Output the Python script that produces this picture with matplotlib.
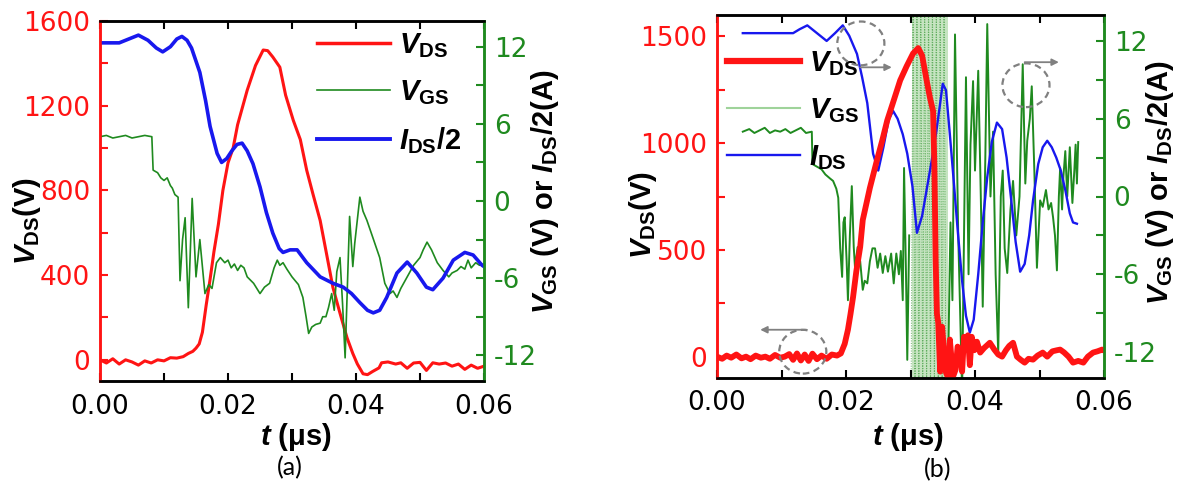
import numpy as np
import matplotlib
matplotlib.use('Agg')
import matplotlib.pyplot as plt
from matplotlib.patches import Ellipse
from matplotlib.lines import Line2D
from matplotlib.ticker import MultipleLocator, FormatStrFormatter

# ---------------- panel (a) data ----------------
t_vds_a = [0.000, 0.001, 0.002, 0.003, 0.004, 0.005, 0.006, 0.007, 0.008, 0.009,
           0.010, 0.011, 0.012, 0.013, 0.0138, 0.0145, 0.0150, 0.0155, 0.0160, 0.0166,
           0.0172, 0.0178, 0.0185, 0.0192, 0.0200, 0.0208, 0.0215, 0.0230, 0.0243, 0.0255,
           0.0262, 0.0270, 0.0281, 0.0290, 0.0302, 0.0313, 0.0323, 0.0333, 0.0344, 0.0354,
           0.0364, 0.0375, 0.0386, 0.0395, 0.0402, 0.0411, 0.0418, 0.0426, 0.0436, 0.0440,
           0.0450, 0.0462, 0.0470, 0.0480, 0.0490, 0.0500, 0.0510, 0.0520, 0.0530, 0.0540,
           0.0550, 0.0560, 0.0570, 0.0580, 0.0590, 0.0600]
vds_a = [0, -15, 5, -20, 0, -10, -25, -5, -15, 0,
         -5, 10, 8, 15, 30, 40, 55, 75, 130, 260,
         380, 510, 640, 800, 930, 1000, 1110, 1273, 1390, 1463,
         1460, 1430, 1382, 1250, 1131, 1040, 895, 780, 658, 500,
         341, 220, 104, 30, -19, -66, -70, -55, -38, -14,
         -10, -20, -14, -40, -15, -12, -50, -14, -20, -15,
         -30, -20, -45, -25, -40, -30]

t_vgs_a = [0.000, 0.001, 0.002, 0.003, 0.004, 0.005, 0.006, 0.007, 0.0081, 0.0083,
           0.0090, 0.0095, 0.0100, 0.0105, 0.0110, 0.0113, 0.0117, 0.0122, 0.0125, 0.0129,
           0.0133, 0.0138, 0.0144, 0.0150, 0.0156, 0.0164, 0.0170, 0.0175, 0.0182, 0.0188,
           0.0195, 0.0200, 0.0205, 0.0210, 0.0215, 0.0220, 0.0225, 0.0230, 0.0240, 0.0250,
           0.0257, 0.0265, 0.0272, 0.0277, 0.0281, 0.0286, 0.0292, 0.0300, 0.0310, 0.0317,
           0.0322, 0.0326, 0.0331, 0.0337, 0.0344, 0.0348, 0.0353, 0.0357, 0.0362, 0.0366,
           0.0370, 0.0375, 0.0379, 0.0383, 0.0390, 0.0395, 0.0398, 0.0406, 0.0411, 0.0417,
           0.0426, 0.0437, 0.0445, 0.0453, 0.0458, 0.0464, 0.0470, 0.0480, 0.0490, 0.0500,
           0.0505, 0.0511, 0.0518, 0.0527, 0.0536, 0.0545, 0.0550, 0.0558, 0.0564, 0.0570,
           0.0575, 0.0580, 0.0587, 0.0593, 0.0600]
vgs_a = [5.0, 5.1, 4.9, 5.0, 5.1, 4.9, 5.0, 5.1, 5.0, 2.4,
         2.2, 1.8, 1.6, 1.8, 1.2, 1.0, 0.5, 0.3, -6.2, -3.0,
         -1.3, -8.3, 0.2, -5.9, -3.0, -7.2, -6.5, -6.8, -4.8, -4.4,
         -4.8, -4.6, -5.2, -4.9, -5.4, -5.0, -5.2, -5.9, -6.4, -7.2,
         -6.7, -6.4, -5.2, -4.6, -5.0, -4.8, -5.3, -5.9, -6.5, -7.5,
         -9.0, -10.3, -9.8, -9.6, -9.5, -9.0, -9.0, -8.3, -7.2, -8.5,
         -5.5, -4.4, -8.0, -12.2, -1.2, -5.1, -3.3, 0.3, -0.8, -1.5,
         -2.8, -4.4, -6.4, -7.2, -7.0, -7.5, -6.8, -5.9, -5.0, -4.4,
         -3.8, -3.2, -3.8, -4.8, -5.4, -5.9, -5.6, -5.4, -5.1, -5.3,
         -4.6, -5.2, -4.8, -5.0, -4.9]

t_ids_a = [0.000, 0.003, 0.0045, 0.006, 0.0075, 0.0088, 0.0098, 0.0110, 0.0120, 0.0128,
           0.0136, 0.0143, 0.0156, 0.0165, 0.0172, 0.0183, 0.0190, 0.0198, 0.0206, 0.0214,
           0.0222, 0.0230, 0.0239, 0.0250, 0.0260, 0.0270, 0.0280, 0.0286, 0.0297, 0.0308,
           0.0323, 0.0344, 0.0364, 0.0380, 0.0393, 0.0406, 0.0418, 0.0427, 0.0437, 0.0448,
           0.0464, 0.0480, 0.0495, 0.0510, 0.0520, 0.0536, 0.0552, 0.0570, 0.0583, 0.0597,
           0.0600]
ids_a = [12.3, 12.3, 12.6, 12.9, 12.5, 11.9, 11.6, 12.0, 12.6, 12.8,
         12.5, 11.9, 10.0, 7.8, 5.8, 3.7, 3.0, 3.3, 3.9, 4.4,
         4.5, 3.9, 2.9, 1.1, -0.9, -2.5, -3.7, -4.0, -3.8, -3.8,
         -4.8, -5.9, -6.4, -6.7, -7.2, -7.9, -8.5, -8.7, -8.5, -7.5,
         -5.6, -4.75, -5.6, -6.7, -6.9, -6.0, -4.6, -4.0, -4.2, -5.0,
         -5.1]

# ---------------- panel (b) data ----------------
t_vds_b = [0.0000, 0.0008, 0.0015, 0.0022, 0.0030, 0.0038, 0.0045, 0.0052, 0.0060, 0.0068,
           0.0075, 0.0082, 0.0090, 0.0098, 0.0105, 0.0112, 0.0118, 0.0124, 0.0130, 0.0136,
           0.0142, 0.0148, 0.0155, 0.0162, 0.0170, 0.0178, 0.0186, 0.0192, 0.0198, 0.0203,
           0.0207, 0.0211, 0.0216, 0.0222, 0.0226, 0.0237, 0.0248, 0.0256, 0.0264, 0.0274,
           0.0284, 0.0294, 0.0304, 0.0312, 0.0318, 0.0325, 0.0330, 0.0335, 0.0337, 0.0339,
           0.0341, 0.0343, 0.0346, 0.0349, 0.0352, 0.0355, 0.0358, 0.0361, 0.0366, 0.0370,
           0.0373, 0.0377, 0.0380, 0.0383, 0.0386, 0.0389, 0.0392, 0.0395, 0.0399, 0.0403,
           0.0408, 0.0414, 0.0423, 0.0430, 0.0436, 0.0442, 0.0448, 0.0453, 0.0459, 0.0465,
           0.0471, 0.0477, 0.0483, 0.0490, 0.0497, 0.0505, 0.0512, 0.0520, 0.0527, 0.0532,
           0.0538, 0.0545, 0.0552, 0.0560, 0.0568, 0.0575, 0.0583, 0.0590, 0.0597, 0.0600]
vds_b = [0, -10, 5, -5, 10, -8, 0, -12, 5, -5,
         0, -10, 8, -5, 0, 12, -15, 15, -18, 10,
         -20, 14, -12, 5, -10, 10, 5, 15, 60, 126,
         200, 280, 400, 514, 640, 790, 920, 1010, 1107, 1200,
         1294, 1360, 1420, 1445, 1410, 1294, 1215, 1150, 900, 450,
         200, 160, -70, 140, 20, -75, -95, 80, -93, -60,
         47, 30, -70, 93, 40, 100, -40, 93, 30, 70,
         19, 40, 65, 33, 10, 0, 30, 50, 65, 0,
         -15, -28, -10, -14, 5, 19, 0, 25, 30, 33,
         20, 0, -28, -20, -28, 0, 19, 25, 33, 30]

t_vgs_b = [0.0040, 0.0050, 0.0058, 0.0066, 0.0074, 0.0082, 0.0090, 0.0098, 0.0106, 0.0114,
           0.0122, 0.0130, 0.0138, 0.0147, 0.0148, 0.0155, 0.0162, 0.0168, 0.0175, 0.0180,
           0.0185, 0.0188, 0.0191, 0.0194, 0.0196, 0.0198, 0.0201, 0.0203, 0.0206, 0.0209,
           0.0212, 0.0214, 0.0218, 0.0222, 0.0226, 0.0229, 0.0233, 0.0237, 0.0241, 0.0245,
           0.0249, 0.0253, 0.0257, 0.0261, 0.0265, 0.0270, 0.0274, 0.0278, 0.0282, 0.0285,
           0.0288, 0.0290, 0.0293, 0.0295, 0.0298, 0.0301, 0.0304, 0.0307, 0.0310, 0.0313,
           0.0316, 0.0319, 0.0322, 0.0325, 0.0328, 0.0331, 0.0334, 0.0337, 0.0340, 0.0343,
           0.0346, 0.0349, 0.0352, 0.0355, 0.0358, 0.0362, 0.0365, 0.0369, 0.0374, 0.0380,
           0.0386, 0.0390, 0.0393, 0.0397, 0.0400, 0.0405, 0.0409, 0.0412, 0.0416, 0.0419,
           0.0424, 0.0428, 0.0432, 0.0436, 0.0440, 0.0443, 0.0446, 0.0450, 0.0455, 0.0459,
           0.0464, 0.0469, 0.0474, 0.0478, 0.0481, 0.0485, 0.0488, 0.0492, 0.0496, 0.0501,
           0.0505, 0.0510, 0.0514, 0.0518, 0.0521, 0.0524, 0.0527, 0.0530, 0.0532, 0.0535,
           0.0537, 0.0540, 0.0543, 0.0547, 0.0551, 0.0554, 0.0556, 0.0558, 0.0560]
vgs_b = [5.0, 5.2, 4.9, 5.1, 5.3, 4.9, 5.1, 5.0, 5.2, 4.9,
         5.1, 5.3, 4.9, 5.0, 2.5, 2.3, 2.1, 1.7, 1.4, 1.2,
         0.6, -0.1, -4.0, -6.2, -2.0, -1.6, -5.0, -8.0, -3.0, 0.8,
         -3.9, -5.5, -3.9, -5.0, -7.2, -6.5, -6.7, -5.0, -4.0, -4.0,
         -5.5, -4.4, -5.9, -4.6, -5.8, -4.4, -6.7, -4.4, -6.0, -4.2,
         -8.0, 2.2, -6.0, -12.6, -3.0, -14.5, 16, -16, 16, -16,
         16, -16, 16, -16, 16, -16, 16, -16, 16, -16,
         16, -16, 16, -16, -14, -2, -8, 12.5, -3, -15,
         9.2, -6, 4, 8.9, 2, 9.7, 0, -8.5, 3, 13.3,
         0, 5, -6, -12.1, 0, 2, -4, -5.9, -1, 1.2,
         -3, 0, 10.2, 1, 4.3, 6, 8.5, 2, -5.5, -0.3,
         -0.8, 0.5, -1.0, -0.5, -1.6, -3.0, -5.7, 0.0, 2.2, -1.0,
         1.5, 3.5, 0.0, 3.8, -0.5, 2.0, 4.0, 1.0, 4.2]

t_ids_b = [0.0040, 0.0080, 0.0118, 0.0128, 0.0140, 0.0155, 0.0170, 0.0183, 0.0195, 0.0205,
           0.0217, 0.0225, 0.0233, 0.0242, 0.0250, 0.0258, 0.0266, 0.0273, 0.0280, 0.0288,
           0.0295, 0.0303, 0.0310, 0.0318, 0.0326, 0.0333, 0.0340, 0.0346, 0.0350, 0.0355,
           0.0361, 0.0367, 0.0373, 0.0380, 0.0386, 0.0392, 0.0398, 0.0405, 0.0412, 0.0419,
           0.0426, 0.0434, 0.0442, 0.0449, 0.0456, 0.0463, 0.0470, 0.0477, 0.0484, 0.0490,
           0.0498, 0.0505, 0.0512, 0.0519, 0.0526, 0.0533, 0.0540, 0.0547, 0.0552, 0.0558]
ids_b = [12.6, 12.6, 12.6, 12.9, 13.2, 12.6, 12.0, 12.6, 13.2, 12.4,
         11.0, 9.2, 7.2, 3.3, 2.0, 3.8, 5.9, 6.6, 6.0, 4.8,
         3.3, 0.8, -2.8, -1.5, 0.8, 2.8, 5.0, 7.2, 8.7, 8.2,
         4.8, 1.2, -2.5, -6.5, -9.2, -10.5, -9.5, -6.0, -2.0, 1.5,
         4.2, 5.7, 5.2, 3.0, -0.2, -3.5, -5.8, -5.2, -3.0, -0.3,
         2.5, 3.8, 4.3, 3.8, 3.0, 2.0, 0.5, -1.3, -2.0, -2.1]

# dense-oscillation window of V_GS in (b)
band_b = [0.0302, 0.0358]

labels_a = [r'$V_{\mathrm{DS}}$', r'$V_{\mathrm{GS}}$', r'$I_{\mathrm{DS}}$/2']
labels_b = [r'$V_{\mathrm{DS}}$', r'$V_{\mathrm{GS}}$', r'$I_{\mathrm{DS}}$']

# ---------------- style ----------------
plt.rcParams['font.family'] = ['DejaVu Sans']
plt.rcParams['axes.unicode_minus'] = False
plt.rcParams['mathtext.fontset'] = 'custom'
plt.rcParams['mathtext.it'] = 'Liberation Sans:italic:bold'
plt.rcParams['mathtext.rm'] = 'Liberation Sans:bold'
plt.rcParams['mathtext.bf'] = 'Liberation Sans:bold'
plt.rcParams['mathtext.sf'] = 'Liberation Sans:bold'

RED = '#ff1414'
GREEN = '#1f8a1f'
BLUE = '#1818ee'
PALE = '#c6e4c1'
PALE_LEG = '#9fd39a'
GRAY = '#808080'
TICK_FS = 19
LAB_FS = 21
LEG_FS = 21
LFAM = 'Liberation Sans'

W, H = 1182, 487
fig = plt.figure(figsize=(W / 100, H / 100), dpi=100)


def make_axes(left, bottom, right, top, vmajor, vminor):
    ax = fig.add_axes([left / W, (H - bottom) / H, (right - left) / W, (bottom - top) / H])
    ax2 = ax.twinx()
    ax.set_xlim(0, 0.06)
    ax.set_ylim(-100, 1600)
    ax2.set_ylim(-14, 14)
    ax.xaxis.set_major_locator(MultipleLocator(0.02))
    ax.xaxis.set_minor_locator(MultipleLocator(0.01))
    ax.xaxis.set_major_formatter(FormatStrFormatter('%.2f'))
    ax.yaxis.set_major_locator(MultipleLocator(vmajor))
    ax.yaxis.set_minor_locator(MultipleLocator(vminor))
    ax2.yaxis.set_major_locator(MultipleLocator(6))
    ax2.yaxis.set_minor_locator(MultipleLocator(3))
    for a in (ax, ax2):
        for s in a.spines.values():
            s.set_linewidth(1.8)
        a.spines['left'].set_color(RED)
        a.spines['right'].set_color(GREEN)
    ax.tick_params(axis='x', which='both', direction='in', top=True, length=6, width=1.5,
                   labelsize=TICK_FS, pad=9, color='black')
    ax.tick_params(axis='y', which='both', direction='in', length=6, width=1.5,
                   labelsize=TICK_FS, pad=7, color=RED, labelcolor=RED)
    ax2.tick_params(axis='y', which='both', direction='in', length=6, width=1.5,
                    labelsize=TICK_FS, pad=7, color=GREEN, labelcolor=GREEN)
    ax.set_xlabel(r'$t$ (μs)', fontsize=LAB_FS, fontweight='bold', fontfamily=LFAM)
    ax.set_ylabel(r'$V_{\mathrm{DS}}$(V)', fontsize=LAB_FS, fontweight='bold', fontfamily=LFAM)
    ax2.set_ylabel(r'$V_{\mathrm{GS}}$ (V) or $I_{\mathrm{DS}}$/2(A)', fontsize=LAB_FS,
                   fontweight='bold', fontfamily=LFAM, rotation=90)
    for lab in (ax.xaxis.label, ax.yaxis.label, ax2.yaxis.label):
        lab.set_va('center')
        lab.set_ha('center')
    return ax, ax2


# ---------------- panel (a) ----------------
axa, axa2 = make_axes(100, 381, 484, 21, 400, 200)
axa.plot(t_vds_a, vds_a, color=RED, lw=2.2)
axa2.plot(t_vgs_a, vgs_a, color=GREEN, lw=1.2)
axa2.plot(t_ids_a, ids_a, color=BLUE, lw=2.6)
axa.xaxis.set_label_coords(0.51, -0.155)
axa.yaxis.set_label_coords(-0.19, 0.445)
axa2.yaxis.set_label_coords(1.16, 0.525)
hand_a = [Line2D([], [], color=RED, lw=2.5), Line2D([], [], color=GREEN, lw=1.2),
          Line2D([], [], color=BLUE, lw=2.8)]
axa2.legend(hand_a, labels_a, loc='upper left', bbox_to_anchor=(0.565, 0.972), frameon=False,
            prop={'size': LEG_FS, 'weight': 'bold', 'family': LFAM}, handlelength=2.5,
            handletextpad=0.3, labelspacing=0.62, borderpad=0, borderaxespad=0)
fig.text(290 / W, 1 - 468 / H, '(a)', fontsize=18, fontfamily='Lato', ha='center', va='center')

# ---------------- panel (b) ----------------
axb, axb2 = make_axes(717, 378, 1104, 15, 500, 250)
axb.set_zorder(axb2.get_zorder() + 1)
axb.patch.set_visible(False)
tb = np.array(t_vgs_b)
vb = np.array(vgs_b)
inside = (tb >= band_b[0] - 0.0002) & (tb <= band_b[1])
outside = ~((tb > band_b[0] - 0.0002) & (tb < band_b[1]))
axb2.axvspan(band_b[0], band_b[1], color=PALE, lw=0, zorder=0)
axb2.plot(tb[inside], vb[inside], color=GREEN, lw=0.7, ls=(0, (1.2, 1.4)), alpha=0.6)
axb2.plot(np.where(outside, tb, np.nan), np.where(outside, vb, np.nan), color=GREEN, lw=1.4)
axb2.plot(t_ids_b, ids_b, color=BLUE, lw=1.7)
axb.plot(t_vds_b, vds_b, color=RED, lw=4.2)
axb.xaxis.set_label_coords(0.494, -0.162)
axb.yaxis.set_label_coords(-0.19, 0.45)
axb2.yaxis.set_label_coords(1.145, 0.537)
hand_b = [Line2D([], [], color=RED, lw=4.5), Line2D([], [], color=PALE_LEG, lw=1.5),
          Line2D([], [], color=BLUE, lw=1.7)]
axb.legend(hand_b, labels_b, loc='upper left', bbox_to_anchor=(0.026, 0.905), frameon=False,
           prop={'size': LEG_FS, 'weight': 'bold', 'family': LFAM}, handlelength=2.5,
           handletextpad=0.3, labelspacing=0.62, borderpad=0, borderaxespad=0)

# dashed circles with arrows (t, V_DS coordinates)
circle_centers = [(0.0223, 1467), (0.0133, 23), (0.0479, 1271)]
circle_size = (0.0073, 205)
arrow_from = [(0.0222, 1355), (0.0139, 126), (0.0477, 1379)]
arrow_to = [(0.0271, 1355), (0.0067, 126), (0.0530, 1379)]
for c in circle_centers:
    axb.add_patch(Ellipse(c, circle_size[0], circle_size[1], fill=False, ec=GRAY, lw=1.6,
                          ls=(0, (3, 2)), zorder=6))
for a0, a1 in zip(arrow_from, arrow_to):
    axb.annotate('', xy=a1, xytext=a0,
                 arrowprops=dict(arrowstyle='-|>', color=GRAY, lw=1.3, mutation_scale=10,
                                 shrinkA=0, shrinkB=0), zorder=6)
fig.text(938 / W, 1 - 470 / H, '(b)', fontsize=18, fontfamily='Lato', ha='center', va='center')

fig.savefig('out.png', dpi=100)
